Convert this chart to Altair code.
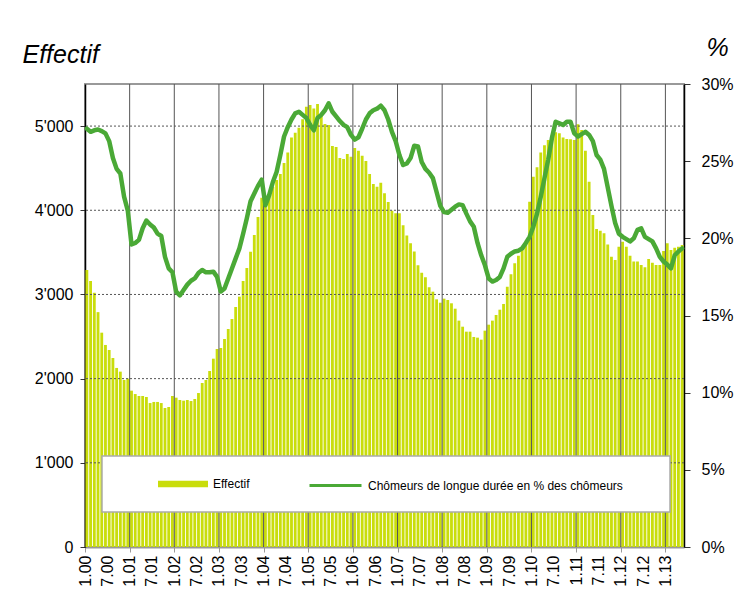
import altair as alt
import pandas as pd

# Monthly values, January 2000 -> May 2013
effectif = [3290, 3160, 3020, 2790, 2546, 2400, 2340, 2245, 2127, 2083, 1984, 2000,
            1857, 1817, 1794, 1794, 1782, 1710, 1723, 1723, 1710, 1651, 1663, 1794,
            1774, 1746, 1738, 1746, 1734, 1758, 1829, 1948, 1984, 2091, 2237, 2352,
            2364, 2471, 2590, 2708, 2851, 2974, 3160, 3314, 3508, 3706, 3920, 4150,
            4100, 4180, 4280, 4360, 4431, 4562, 4685, 4863, 4922, 4981, 5080, 5231,
            5251, 5210, 5263, 5150, 5025, 5013, 4764, 4752, 4621, 4609, 4669, 4637,
            4740, 4708, 4649, 4586, 4431, 4312, 4280, 4328, 4201, 4098, 3995, 3964,
            3964, 3822, 3699, 3608, 3509, 3347, 3259, 3204, 3085, 3033, 2942, 2902,
            2950, 2934, 2895, 2831, 2689, 2617, 2558, 2558, 2495, 2487, 2463, 2570,
            2641, 2689, 2756, 2819, 2887, 3093, 3240, 3370, 3460, 3550, 3610, 4100,
            4399, 4510, 4685, 4772, 4835, 4887, 4926, 4914, 4863, 4847, 4843, 4835,
            5021, 4954, 4708, 4340, 3944, 3778, 3758, 3727, 3592, 3449, 3410, 3568,
            3627, 3568, 3461, 3390, 3390, 3350, 3323, 3421, 3378, 3350, 3350, 3516,
            3608, 3528, 3556, 3568, 3588]

pct_longue_duree = [27.1, 26.9, 27.0, 27.05, 26.95, 26.8, 26.3, 25.2, 24.5, 24.2, 22.7, 21.8,
                    19.6, 19.7, 19.9, 20.65, 21.15, 20.9, 20.7, 20.3, 20.15, 18.8, 18.05, 17.8,
                    16.55, 16.3, 16.65, 17.0, 17.25, 17.4, 17.75, 17.95, 17.8, 17.8, 17.84, 17.5,
                    16.55, 16.75, 17.4, 18.05, 18.7, 19.35, 20.3, 21.3, 22.4, 22.9, 23.4, 23.8,
                    22.15, 22.8, 23.65, 24.3, 25.4, 26.6, 27.2, 27.7, 28.1, 28.2, 28.0, 27.8,
                    27.35, 27.0, 27.8, 28.0, 28.3, 28.75, 28.2, 27.9, 27.6, 27.35, 27.2, 26.7,
                    26.4, 26.55, 27.1, 27.7, 28.1, 28.3, 28.4, 28.6, 28.3, 27.7, 26.9, 26.3,
                    25.4, 24.75, 24.85, 25.2, 26.0, 25.95, 24.95, 24.5, 24.25, 23.9, 23.0, 22.1,
                    21.7, 21.65, 21.85, 22.05, 22.2, 22.15, 21.6, 21.1, 20.75, 19.7, 18.9, 18.25,
                    17.4, 17.2, 17.3, 17.5, 18.05, 18.8, 19.0, 19.15, 19.2, 19.35, 19.7, 20.1,
                    20.75, 21.6, 22.7, 23.9, 25.1, 26.5, 27.55, 27.45, 27.35, 27.55, 27.55, 26.8,
                    26.6, 26.75, 26.9, 26.7, 26.3, 25.4, 25.1, 24.5, 23.3, 22.1, 21.0, 20.3,
                    20.1, 19.95, 19.8, 20.0, 20.55, 20.65, 20.1, 19.95, 19.8, 19.35, 18.8, 18.5,
                    18.3, 18.05, 18.9, 19.15, 19.35]

n_months = len(effectif)
label_months = list(range(0, n_months, 6))     # 1.00, 7.00, 1.01, ...
year_starts = list(range(12, n_months, 12))    # vertical grid lines
left_ticks = [0, 1000, 2000, 3000, 4000, 5000]
grid_values = [1000, 2000, 3000, 4000, 5000]
right_ticks = [0, 5, 10, 15, 20, 25, 30]

serie_bar = "Effectif"
serie_line = "Chômeurs de longue durée en % des chômeurs"

FONT = "Liberation Sans"
BAR_COLOR = "#c9dd0b"
LINE_COLOR = "#4aa936"

df = pd.DataFrame({"t": list(range(n_months)), "effectif": effectif,
                   "pct": pct_longue_duree})
df["serie_bar"] = serie_bar
df["serie_line"] = serie_line

x_scale = alt.Scale(domain=[0, n_months], nice=False, zero=False)
y_left_scale = alt.Scale(domain=[0, 5500], nice=False)
y_right_scale = alt.Scale(domain=[0, 30], nice=False)

x_axis = alt.Axis(
    values=label_months,
    labelExpr="(datum.value % 12 + 1) + '.' + (floor(datum.value / 12) < 10 ? '0' : '') + floor(datum.value / 12)",
    labelAngle=-90, labelFontSize=16, labelFont=FONT, labelColor="#000",
    labelPadding=3, grid=False, tickSize=5, tickColor="#999",
    tickOpacity={"condition": {"test": "datum.value % 12 == 0", "value": 1}, "value": 0},
    domainColor="#999", domainWidth=2, title=None,
)

y_left_axis = alt.Axis(
    values=left_ticks, grid=False,
    labelExpr="replace(format(datum.value, ','), ',', \"'\")",
    labelFontSize=16, labelFont=FONT, labelColor="#000", labelPadding=7,
    tickSize=5, tickColor="#333", domainColor="#000", domainWidth=1.5,
    title="Effectif", titleAngle=0, titleX=-63, titleY=-22, titleAlign="left",
    titleBaseline="alphabetic", titleFontSize=25, titleFontStyle="italic",
    titleFontWeight="normal", titleFont=FONT, titleColor="#000",
)

y_right_axis = alt.Axis(
    values=right_ticks, grid=False, orient="right",
    labelExpr="datum.value + '%'",
    labelFontSize=16, labelFont=FONT, labelColor="#000", labelPadding=11,
    tickSize=6, tickColor="#333", domainColor="#000", domainWidth=1.5,
    title="%", titleAngle=0, titleX=33, titleY=-29, titleAlign="center",
    titleBaseline="alphabetic", titleFontSize=25, titleFontStyle="italic",
    titleFontWeight="normal", titleFont=FONT, titleColor="#000",
)

bars = alt.Chart(df).transform_calculate(
    x0="datum.t + 0.12", x1="datum.t + 0.88"
).mark_bar().encode(
    x=alt.X("x0:Q", scale=x_scale, axis=x_axis),
    x2="x1:Q",
    y=alt.Y("effectif:Q", scale=y_left_scale, axis=y_left_axis, stack=None),
    y2=alt.datum(0),
    fill=alt.Fill("serie_bar:N",
                  scale=alt.Scale(domain=[serie_bar], range=[BAR_COLOR]),
                  legend=alt.Legend(orient="none", legendX=73, legendY=375,
                                    title=None, symbolType="M-1,-0.13H1V0.13H-1Z",
                                    symbolSize=2500, symbolStrokeWidth=0,
                                    labelFont=FONT, labelFontSize=12,
                                    labelColor="#000", labelOffset=5, padding=0)),
)

hgrid = alt.Chart(pd.DataFrame({"effectif": grid_values})).mark_rule(
    color="#555", strokeWidth=1, strokeDash=[2, 2]
).encode(y=alt.Y("effectif:Q", scale=y_left_scale, axis=y_left_axis))

vgrid = alt.Chart(pd.DataFrame({"x0": year_starts})).mark_rule(
    color="#555", strokeWidth=1
).encode(x=alt.X("x0:Q", scale=x_scale, axis=x_axis))

left = alt.layer(bars, hgrid, vgrid)

line = alt.Chart(df).transform_calculate(
    x0="datum.t + 0.5"
).mark_line(strokeWidth=4.5, strokeJoin="round", strokeCap="round").encode(
    x=alt.X("x0:Q", scale=x_scale, axis=x_axis),
    y=alt.Y("pct:Q", scale=y_right_scale, axis=y_right_axis),
    stroke=alt.Stroke("serie_line:N",
                      scale=alt.Scale(domain=[serie_line], range=[LINE_COLOR]),
                      legend=alt.Legend(orient="none", legendX=223, legendY=374,
                                        title=None, symbolType="stroke",
                                        symbolSize=2704, symbolStrokeWidth=3,
                                        labelFont=FONT, labelFontSize=12,
                                        labelLimit=500,
                                        labelColor="#000", labelOffset=5, padding=0)),
)

legend_box = alt.Chart(pd.DataFrame({"k": [0]})).mark_rect(
    fill="white", stroke="#aaa", strokeWidth=1.5
).encode(x=alt.value(17), x2=alt.value(585), y=alt.value(372), y2=alt.value(428))

chart = alt.layer(left, line, legend_box).resolve_scale(
    y="independent", fill="independent", stroke="independent"
).properties(
    width=599, height=463,
    autosize=alt.AutoSizeParams(type="none"),
    padding={"left": 77, "top": 76, "right": 50, "bottom": 40},
).configure_view(stroke="#999", strokeWidth=2)

chart.save("out.html", embed_options={"renderer": "svg", "actions": False})
